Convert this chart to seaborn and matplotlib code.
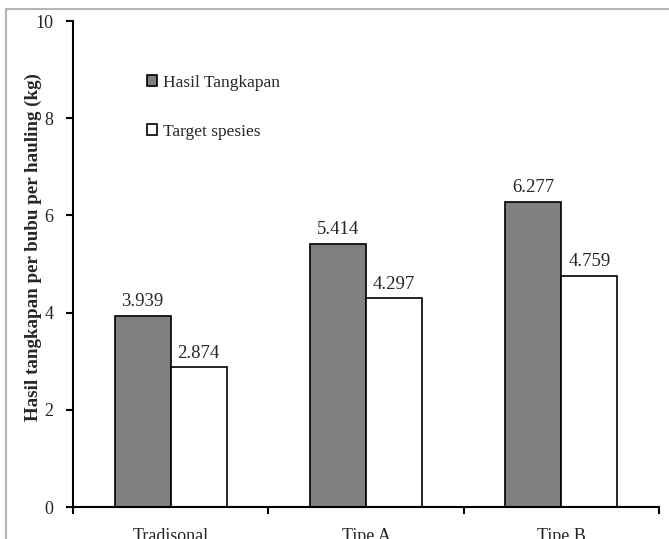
import matplotlib
matplotlib.use("Agg")
import matplotlib.pyplot as plt
from matplotlib.patches import Rectangle
import seaborn as sns
import pandas as pd

categories = ["Tradisonal", "Tipe A", "Tipe B"]
series_names = ["Hasil Tangkapan", "Target spesies"]
hasil_tangkapan = [3.939, 5.414, 6.277]
target_spesies = [2.874, 4.297, 4.759]
y_ticks = [0, 2, 4, 6, 8, 10]

sns.set_theme(style="white")
plt.rcParams["font.family"] = ["Liberation Serif", "DejaVu Serif"]

df = pd.DataFrame({
    "Jenis": categories * 2,
    "Nilai": hasil_tangkapan + target_spesies,
    "Seri": [series_names[0]] * 3 + [series_names[1]] * 3,
})

fig = plt.figure(figsize=(6.69, 5.39), dpi=100)
ax = fig.add_axes([73 / 669, 32 / 539, 586 / 669, 486 / 539])

palette = {series_names[0]: "#808080", series_names[1]: "#ffffff"}
sns.barplot(data=df, x="Jenis", y="Nilai", hue="Seri", order=categories,
            hue_order=series_names, palette=palette, saturation=1,
            width=0.575, edgecolor="black", linewidth=1.2, ax=ax)

for cont in ax.containers:
    ax.bar_label(cont, fmt="%.3f", padding=4, fontsize=13.5)

ax.set_xlim(-0.5, 2.5)
ax.set_ylim(0, 10)
ax.set_yticks(y_ticks)
ax.set_yticklabels([str(t) for t in y_ticks], fontsize=13)
ax.set_xticks(range(len(categories)))
ax.set_xticklabels(categories, fontsize=13)
ax.set_xticks([-0.5, 0.5, 1.5, 2.5], minor=True)
ax.tick_params(axis="x", which="major", length=0, pad=15)
ax.tick_params(axis="x", which="minor", length=5, width=1.5, color="black",
               direction="out", bottom=True)
ax.tick_params(axis="y", length=5, width=1.5, color="black",
               direction="out", left=True, pad=9)

for side in ("top", "right"):
    ax.spines[side].set_visible(False)
for side in ("left", "bottom"):
    ax.spines[side].set_color("black")
    ax.spines[side].set_linewidth(1.5)

ax.set_xlabel("")
ax.set_ylabel("Hasil tangkapan per bubu per hauling (kg)", fontsize=13.7,
              fontweight="bold")
ax.yaxis.set_label_coords(-0.053, 0.534)

handles, labels = ax.get_legend_handles_labels()
ax.legend(handles, labels, loc="upper left",
          bbox_to_anchor=(140 / 669, 1 - 68 / 539),
          bbox_transform=fig.transFigure, frameon=False, fontsize=12.5,
          handlelength=0.6, handleheight=0.6, handletextpad=0.3,
          labelspacing=1.9, borderaxespad=0)

# outer chart frame
fig.add_artist(Rectangle((6 / 669, -0.1), 2, 1.1 - 9 / 539,
                         transform=fig.transFigure, fill=False,
                         edgecolor="#b5b5b5", linewidth=1.5))

fig.savefig("out.png", dpi=100)
